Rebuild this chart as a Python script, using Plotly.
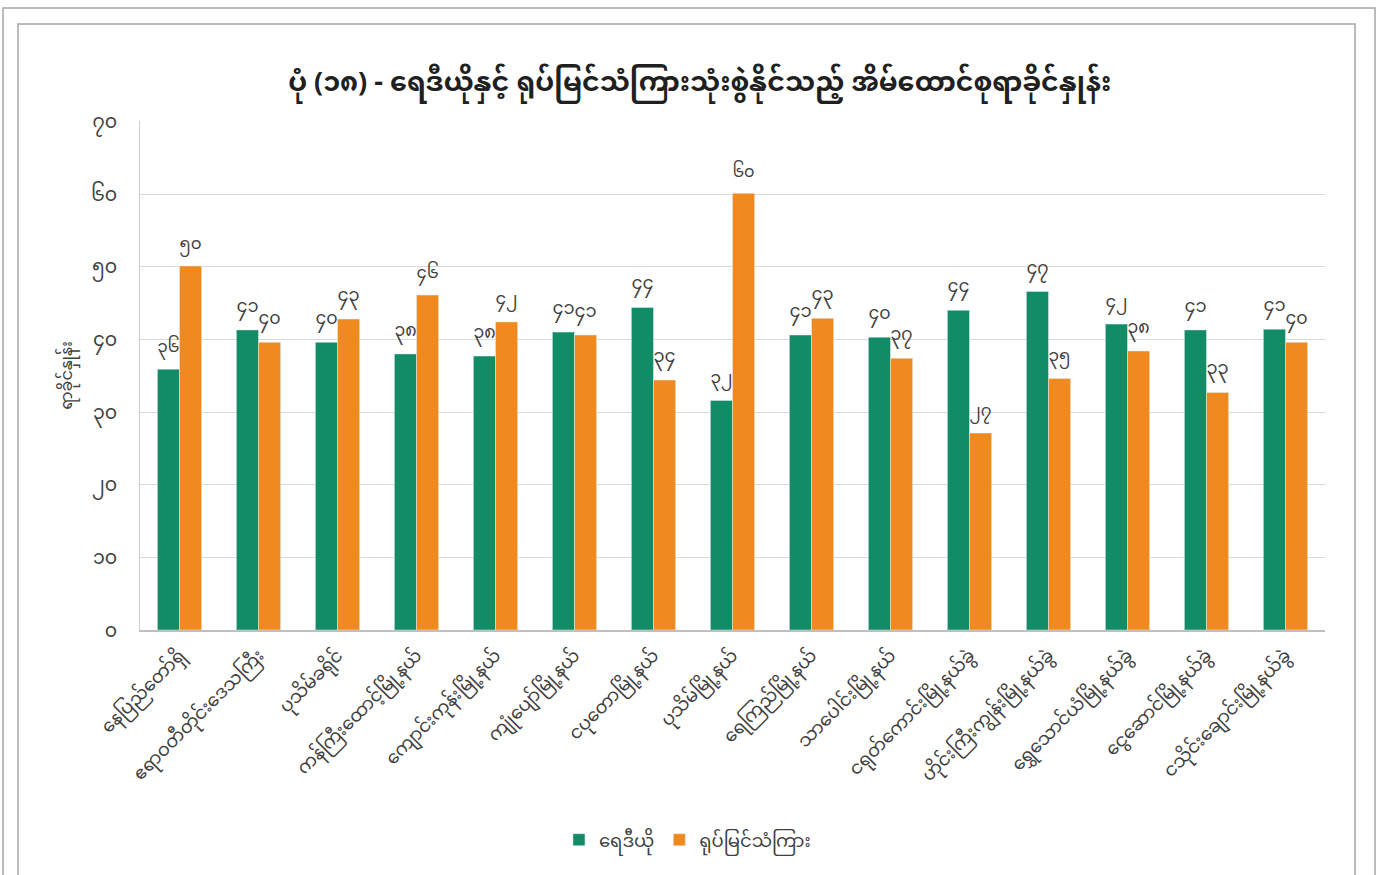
import plotly.graph_objects as go

categories = [
    "နေပြည်တော်ရှိ", "ဧရာဝတီတိုင်းဒေသကြီး", "ပုသိမ်ခရိုင်", "ကန်ကြီးထောင့်မြို့နယ်",
    "ကျောင်းကုန်းမြို့နယ်", "ကျုံပျော်မြို့နယ်", "ငပုတောမြို့နယ်", "ပုသိမ်မြို့နယ်",
    "ရေကြည်မြို့နယ်", "သာပေါင်းမြို့နယ်", "ငရုတ်ကောင်းမြို့နယ်ခွဲ", "ဟိုင်းကြီးကျွန်းမြို့နယ်ခွဲ",
    "ရွှေသောင်ယံမြို့နယ်ခွဲ", "ငွေဆောင်မြို့နယ်ခွဲ", "ငသိုင်းချောင်းမြို့နယ်ခွဲ",
]
radio = [35.9, 41.3, 39.6, 38.0, 37.7, 41.0, 44.4, 31.6, 40.6, 40.3, 44.0, 46.6, 42.1, 41.3, 41.4]
tv = [50.1, 39.6, 42.8, 46.1, 42.4, 40.6, 34.4, 60.1, 42.9, 37.4, 27.1, 34.6, 38.4, 32.7, 39.6]
yticks = [0, 10, 20, 30, 40, 50, 60, 70]

MM = str.maketrans("0123456789", "၀၁၂၃၄၅၆၇၈၉")
def mm(v):
    return str(int(round(v))).translate(MM)

FONT = "Noto Sans Myanmar, Padauk, Myanmar Text, Noto Sans, sans-serif"
GREEN = "#118c65"
ORANGE = "#f08a1f"
W, H = 1383, 875
ML, MR, MT, MB = 140, 58, 121, 245

fig = go.Figure()
fig.add_bar(x=categories, y=radio, name="ရေဒီယို", marker_color=GREEN,
            text=[mm(v) for v in radio], textposition="outside", cliponaxis=False,
            textfont=dict(size=20, color="#404040", family=FONT))
fig.add_bar(x=categories, y=tv, name="ရုပ်မြင်သံကြား", marker_color=ORANGE,
            text=[mm(v) for v in tv], textposition="outside", cliponaxis=False,
            textfont=dict(size=20, color="#404040", family=FONT))

fig.update_layout(
    width=W, height=H,
    paper_bgcolor="white", plot_bgcolor="white",
    barmode="group", bargap=0.44, bargroupgap=0,
    font=dict(family=FONT, color="#404040"),
    title=dict(text="<b>ပုံ (၁၈) - ရေဒီယိုနှင့် ရုပ်မြင်သံကြားသုံးစွဲနိုင်သည့် အိမ်ထောင်စုရာခိုင်နှုန်း</b>",
               x=0.506, xanchor="center", y=1 - 82 / H, yanchor="middle",
               font=dict(size=27, color="#202020", family=FONT)),
    margin=dict(l=ML, r=MR, t=MT, b=MB),
    showlegend=True,
    legend=dict(orientation="h", x=0.462, xanchor="center", y=-(840 - (H - MB)) / (H - MT - MB), yanchor="middle",
                font=dict(size=18, color="#404040", family=FONT)),
)
fig.update_xaxes(tickangle=-45, tickfont=dict(size=18, color="#404040", family=FONT),
                 showline=True, linecolor="#bfbfbf", linewidth=1.5, ticks="", ticklabelstandoff=6)
fig.update_yaxes(range=[0, 70.05], tickvals=yticks, ticktext=[mm(v) for v in yticks],
                 tickfont=dict(size=19, color="#404040", family=FONT),
                 showgrid=True, gridcolor="#d9d9d9", gridwidth=1, zeroline=False,
                 showline=True, linecolor="#d0d0d0", linewidth=1, ticklabelstandoff=18,
                 title=dict(text="ရာခိုင်နှုန်း", font=dict(size=16, color="#404040", family=FONT), standoff=14))

pw = W - ML - MR
ph = H - MT - MB
def px(x):
    return (x - ML) / pw
def py(y):
    return (H - MB - y) / ph
fig.add_shape(type="rect", xref="paper", yref="paper", x0=px(18), x1=px(1355), y0=py(880), y1=py(24),
              line=dict(color="#a6a6a6", width=1.5), layer="below")
fig.add_shape(type="rect", xref="paper", yref="paper", x0=px(3), x1=px(1375), y0=py(880), y1=py(8),
              line=dict(color="#a6a6a6", width=1.5), layer="below")

fig.write_html("out.html", config={"displayModeBar": False},
               post_script="document.body.style.margin='0';document.body.style.overflow='hidden';")
